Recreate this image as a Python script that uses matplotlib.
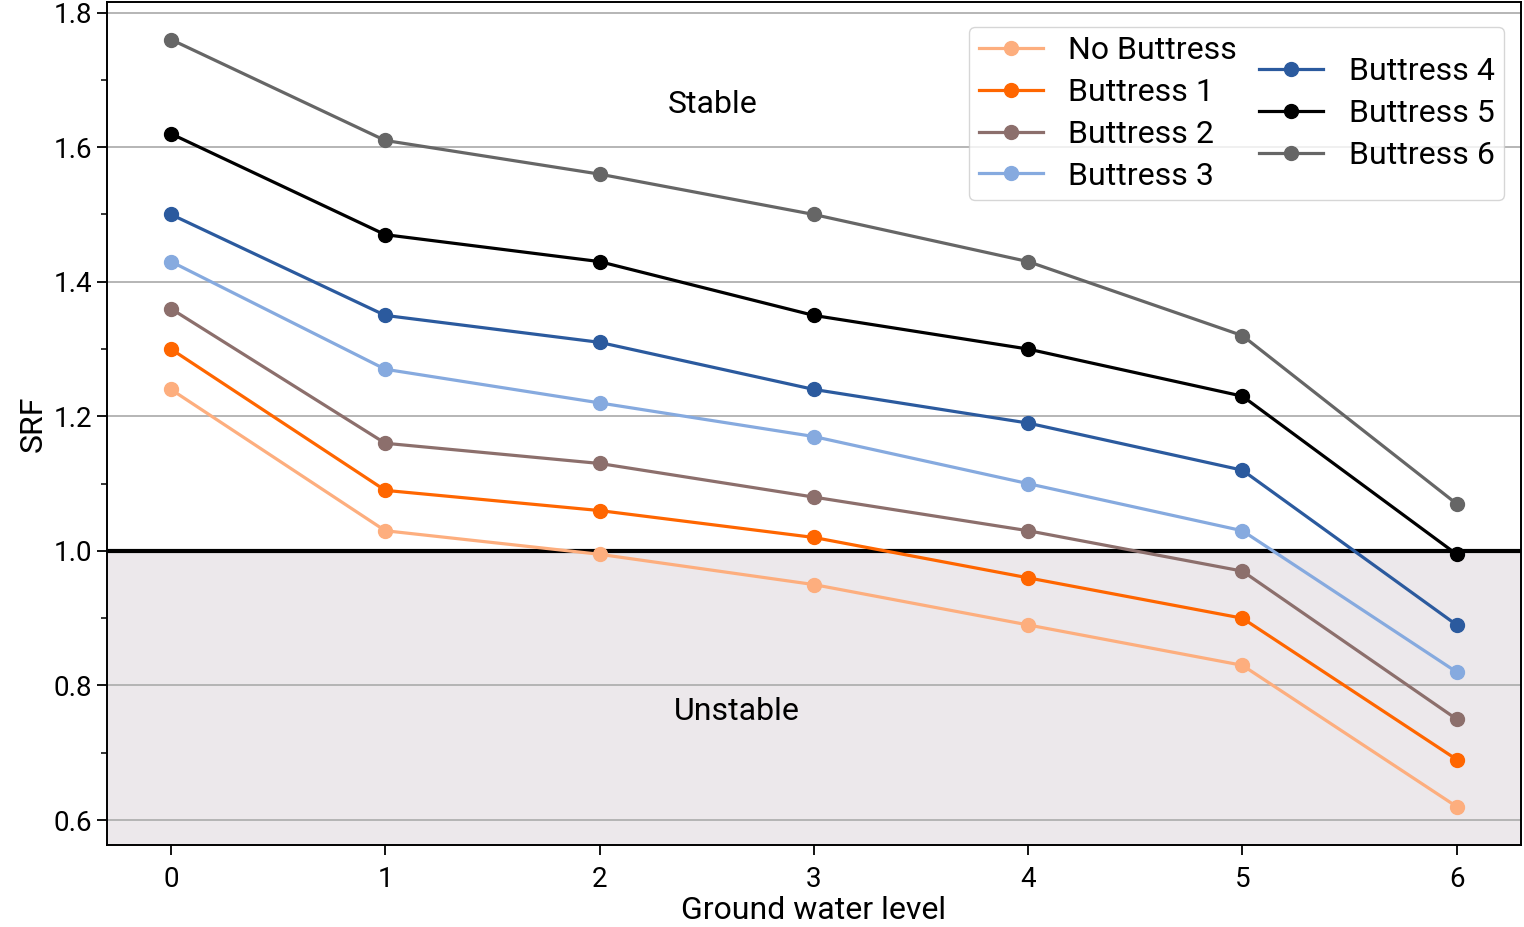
import matplotlib
matplotlib.use("Agg")
import matplotlib.pyplot as plt
from matplotlib.ticker import MultipleLocator

plt.rcParams['font.family'] = ['Roboto', 'DejaVu Sans']

# ground water level
levels = [0, 1, 2, 3, 4, 5, 6]

# SRF values
no_buttress = [1.24, 1.03, 0.995, 0.95, 0.89, 0.83, 0.62]
buttress1 = [1.30, 1.09, 1.06, 1.02, 0.96, 0.90, 0.69]
buttress2 = [1.36, 1.16, 1.13, 1.08, 1.03, 0.97, 0.75]
buttress3 = [1.43, 1.27, 1.22, 1.17, 1.10, 1.03, 0.82]
buttress4 = [1.50, 1.35, 1.31, 1.24, 1.19, 1.12, 0.89]
buttress5 = [1.62, 1.47, 1.43, 1.35, 1.30, 1.23, 0.995]
buttress6 = [1.76, 1.61, 1.56, 1.50, 1.43, 1.32, 1.07]

names = ['No Buttress', 'Buttress 1', 'Buttress 2', 'Buttress 3',
         'Buttress 4', 'Buttress 5', 'Buttress 6']
series = [no_buttress, buttress1, buttress2, buttress3,
          buttress4, buttress5, buttress6]
colors = ['#fdae7e', '#ff6600', '#8c6f6c', '#86aadf',
          '#2b5a9e', '#000000', '#666666']

fig = plt.figure(figsize=(15.24, 9.27), dpi=100)
ax = fig.add_axes([0.070, 0.0885, 0.928, 0.9095])

ymin, ymax = 0.563, 1.816
ax.axhspan(ymin, 1.0, color='#ece8eb', zorder=0)
ax.axhline(1.0, color='black', lw=3, zorder=1)

for vals, name, c in zip(series, names, colors):
    ax.plot(levels, vals, '-o', color=c, lw=2.3, ms=10, label=name, zorder=3)

ax.text(2.53, 1.663, 'Stable', fontsize=23, ha='center', va='center')
ax.text(2.64, 0.762, 'Unstable', fontsize=23, ha='center', va='center')

ax.set_xlim(-0.3, 6.3)
ax.set_ylim(ymin, ymax)
ax.set_xticks(levels)
ax.yaxis.set_major_locator(MultipleLocator(0.2))
ax.yaxis.set_minor_locator(MultipleLocator(0.1))
ax.grid(axis='y', which='major', color='#b0b0b0', lw=1.3, zorder=0)
ax.set_axisbelow(True)
ax.tick_params(labelsize=20, length=7, width=1.3)
ax.tick_params(axis='x', pad=8)
ax.tick_params(which='minor', length=4, width=1.1)
for s in ax.spines.values():
    s.set_linewidth(1.4)

ax.set_xlabel('Ground water level', fontsize=23, labelpad=2)
ax.set_ylabel('SRF', fontsize=23)

leg = ax.legend(ncol=2, fontsize=23, loc='upper right',
                bbox_to_anchor=(0.9995, 0.9895), handlelength=2.0,
                handletextpad=0.8, columnspacing=0.7, labelspacing=0.4,
                borderpad=0.3, framealpha=0.8)
# centre the shorter second column vertically, as in the original
leg._legend_handle_box.align = 'center'

fig.savefig('out.png', dpi=100)
